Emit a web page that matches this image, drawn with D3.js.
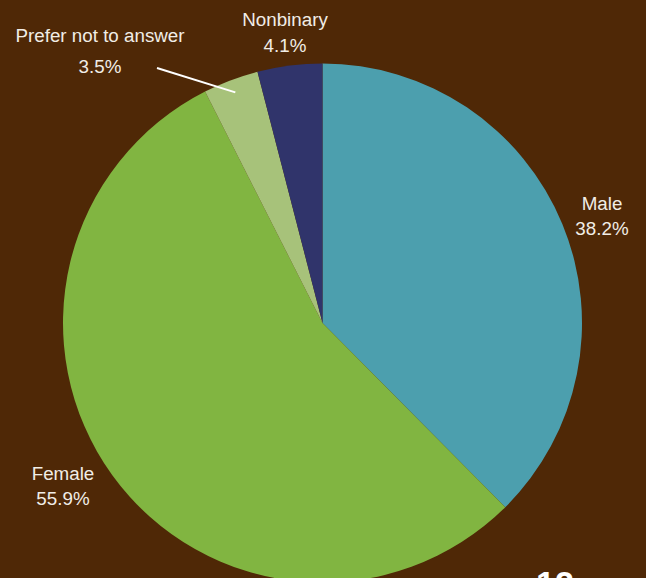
<!DOCTYPE html>
<html>
<head>
<meta charset="utf-8">
<script src="https://cdn.jsdelivr.net/npm/d3@7"></script>
<style>
  html, body { margin: 0; padding: 0; background: #4f2806; }
  svg { display: block; }
  text { font-family: "Liberation Sans", Arial, Helvetica, sans-serif; }
</style>
</head>
<body>
<svg id="chart" width="646" height="578"></svg>
<script>
// Survey respondents by gender (percent)
const categories = ["Male", "Female", "Prefer not to answer", "Nonbinary"];
const values = [38.2, 55.9, 3.5, 4.1];
const colors = ["#4c9fae", "#81b541", "#a7c27a", "#30346b"];
const pageNumber = "12";

const W = 646, H = 578;
const cx = 322.5, cy = 323, R = 259.5;

const svg = d3.select("#chart");
svg.append("rect").attr("width", W).attr("height", H).attr("fill", "#4f2806");

const data = categories.map((c, i) => ({ name: c, value: values[i], color: colors[i] }));

const pie = d3.pie().value(d => d.value).sort(null);
const arc = d3.arc().innerRadius(0).outerRadius(R);
const arcs = pie(data);

const g = svg.append("g").attr("transform", `translate(${cx},${cy})`);
g.selectAll("path.slice")
  .data(arcs)
  .join("path")
  .attr("class", "slice")
  .attr("d", arc)
  .attr("fill", d => d.data.color);

// Label placement (page coordinates), one entry per category
const labelPos = {
  "Male":                 { x: 602, y: 210, gap: 25 },
  "Female":               { x: 63,  y: 480, gap: 25 },
  "Prefer not to answer": { x: 100, y: 42,  gap: 31 },
  "Nonbinary":            { x: 285, y: 26,  gap: 26 }
};

const labels = svg.append("g")
  .attr("fill", "#f1ede6")
  .attr("font-size", 18.8)
  .attr("text-anchor", "middle");

arcs.forEach(a => {
  const p = labelPos[a.data.name];
  const t = labels.append("text").attr("x", p.x).attr("y", p.y);
  t.append("tspan").attr("x", p.x).text(a.data.name);
  t.append("tspan").attr("x", p.x).attr("dy", p.gap).text(d3.format(".1f")(a.data.value) + "%");
});

// Leader line for the small "Prefer not to answer" slice
const small = arcs.find(a => a.data.name === "Prefer not to answer");
const inner = d3.arc().innerRadius(R * 0.95).outerRadius(R * 0.95);
const [lx, ly] = inner.centroid(small);
svg.append("line")
  .attr("x1", 157).attr("y1", 68)
  .attr("x2", cx + lx).attr("y2", cy + ly)
  .attr("stroke", "#ffffff")
  .attr("stroke-width", 2);

// Page number running off the bottom edge
svg.append("text")
  .attr("x", 555).attr("y", 595)
  .attr("text-anchor", "middle")
  .attr("font-size", 34)
  .attr("font-weight", "bold")
  .attr("fill", "#ffffff")
  .text(pageNumber);
</script>
</body>
</html>
